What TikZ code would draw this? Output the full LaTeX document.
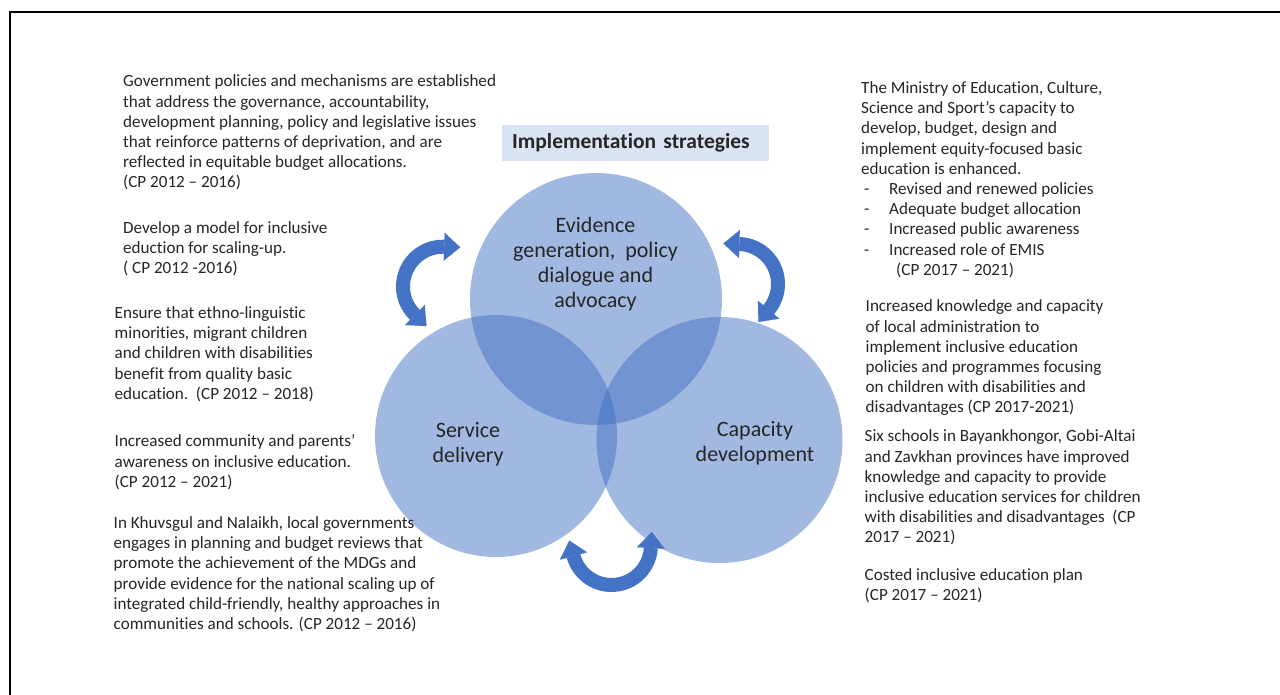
\documentclass[tikz,border=0pt]{standalone}
\usepackage{fontspec}
\setmainfont{Carlito}[Ligatures=NoCommon]
\usetikzlibrary{arrows.meta,calc}
\definecolor{accent}{HTML}{4472C4}
\definecolor{titlefill}{HTML}{DAE3F3}
\definecolor{txt}{HTML}{262626}
\tikzset{
  bodytext/.style={anchor=north west, inner sep=0pt, align=left, text=txt, font=\fontsize{17.1}{20.2}\selectfont},
  circtext/.style={anchor=north, inner sep=0pt, align=center, text=txt, font=\fontsize{22}{25}\selectfont},
  bubble/.style={circle, fill=accent, fill opacity=0.5, draw=none, inner sep=0pt},
  cyclearrow/.style={draw=accent, line width=14pt,
    {Triangle[width=28pt,length=16pt,line width=0.1pt]}-{Triangle[width=28pt,length=16pt,line width=0.1pt]}},
}
\begin{document}
\begin{tikzpicture}[x=1pt,y=-1pt]
\useasboundingbox (0,0) rectangle (1280,695);
\fill[white] (0,0) rectangle (1280,695);
% frame
\coordinate (fbl) at (9.5,695);
\coordinate (ftl) at (9.5,12.5);
\coordinate (ftr) at (1280,12.5);
\draw[line width=2pt, black] (fbl) -- (ftl) -- (ftr);

% circles
\node[bubble, minimum size=252pt] (evc) at (596,299) {};
\node[bubble, minimum size=242pt] (sdc) at (496,436) {};
\node[bubble, minimum size=246pt] (cdc) at (719.5,440) {};

% circle texts
\node[circtext] (evt) at (595.5,215.2) {\strut Evidence\\generation,\ \ policy\\dialogue and\\advocacy};
\node[circtext] (sdt) at (468,420) {\strut Service\\delivery};
\node[circtext] (cdt) at (755,419) {\strut Capacity\\development};

% title
\node[anchor=north west, fill=titlefill, minimum width=267pt, minimum height=36pt,
      inner xsep=10pt, inner ysep=0pt, text width=247pt, align=left, text=txt,
      font=\bfseries\fontsize{21.5}{24}\selectfont] (title) at (502,125) {Implementation strategies};

% cycle arrows
\coordinate (lac) at (442.8,286.5);
\coordinate (rac) at (738,284);
\coordinate (bac) at (611.5,545.6);
\draw[cyclearrow] ($(lac)+(134.3:39.8)+(44.3:16)$) -- ($(lac)+(134.3:39.8)$)
   arc[start angle=134.3, end angle=272, radius=39.8] -- ++(2:16);
\draw[cyclearrow] ($(rac)+(-88:40)+(-178:16)$) -- ($(rac)+(-88:40)$)
   arc[start angle=-88, end angle=40, radius=40] -- ++(130:16);
\draw[cyclearrow] ($(bac)+(3.6:39.4)+(-86.4:16)$) -- ($(bac)+(3.6:39.4)$)
   arc[start angle=3.6, end angle=164.7, radius=39.4] -- ++(254.7:16);

% left texts
\node[bodytext] (l1) at (123,72.6) {\strut Government policies and mechanisms are established\\that address the governance, accountability,\\development planning, policy and legislative issues\\that reinforce patterns of deprivation, and are\\reflected in equitable budget allocations.\\(CP 2012 – 2016)};
\node[bodytext] (l2) at (123,219.2) {\strut Develop a model for inclusive\\eduction for scaling-up.\\( CP 2012 -2016)};
\node[bodytext] (l3) at (114.5,304.2) {\strut Ensure that ethno-linguistic\\minorities, migrant children\\and children with disabilities\\benefit from quality basic\\education.\ \ (CP 2012 – 2018)};
\node[bodytext] (l4) at (114.5,432.6) {\strut Increased community and parents’\\awareness on inclusive education.\\(CP 2012 – 2021)};
\node[bodytext] (l5) at (113.5,514.2) {\strut In Khuvsgul and Nalaikh, local governments\\engages in planning and budget reviews that\\promote the achievement of the MDGs and\\provide evidence for the national scaling up of\\integrated child-friendly, healthy approaches in\\communities and schools. (CP 2012 – 2016)};

% right texts
\node[bodytext] (r1) at (861,79.2) {\strut The Ministry of Education, Culture,\\Science and Sport’s capacity to\\develop, budget, design and\\implement equity-focused basic\\education is enhanced.\\
\hspace*{3pt}\makebox[25pt][l]{-}Revised and renewed policies\\
\hspace*{3pt}\makebox[25pt][l]{-}Adequate budget allocation\\
\hspace*{3pt}\makebox[25pt][l]{-}Increased public awareness\\
\hspace*{3pt}\makebox[25pt][l]{-}Increased role of EMIS\\
\hspace*{35pt}(CP 2017 – 2021)};
\node[bodytext] (r2) at (865.5,297.6) {\strut Increased knowledge and capacity\\of local administration to\\implement inclusive education\\policies and programmes focusing\\on children with disabilities and\\disadvantages (CP 2017-2021)};
\node[bodytext] (r3) at (864.5,427.6) {\strut Six schools in Bayankhongor, Gobi-Altai\\and Zavkhan provinces have improved\\knowledge and capacity to provide\\inclusive education services for children\\with disabilities and disadvantages\ \ (CP\\2017 – 2021)};
\node[bodytext] (r4) at (864.5,565.9) {\strut Costed inclusive education plan\\(CP 2017 – 2021)};
\end{tikzpicture}
\end{document}
